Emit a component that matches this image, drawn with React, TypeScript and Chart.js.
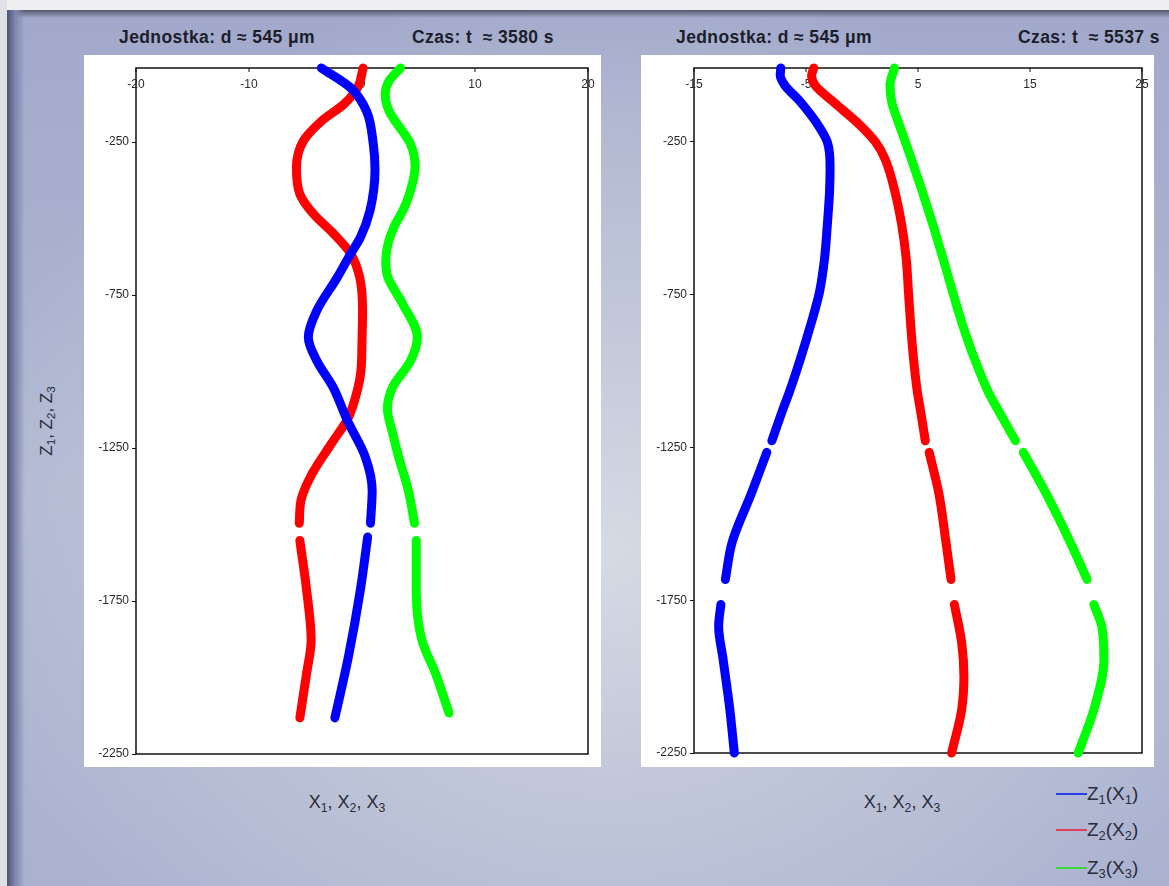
import React, { useEffect, useRef } from "react";
import { Chart, registerables } from "chart.js";

Chart.register(...registerables);

// ---------- Data (depth z, horizontal position x); null = gap in the trace ----------
// Left panel: t ≈ 3580 s
const leftXTicks = [-20, -10, 0, 10, 20];
const leftZ1Depth = [-8, -73, -149, -257, -340, -475, -562, -615, -693, -801, -888, -965, -1052, -1160, -1280, -1389, -1496, null, -1541, -1715, -1932, -2132];
const leftZ1X = [-3.6, -1.0, 0.4, 1.0, 1.15, 0.7, -0.15, -1.0, -2.2, -4.0, -4.75, -4.0, -2.55, -1.3, 0.3, 0.9, 0.75, null, 0.5, -0.15, -1.2, -2.4];
const leftZ2Depth = [-8, -73, -126, -182, -247, -334, -420, -485, -550, -615, -693, -801, -900, -1000, -1060, -1150, -1235, -1333, -1421, -1496, null, -1552, -1715, -1878, -1986, -2132];
const leftZ2X = [0.1, -0.4, -1.6, -3.6, -5.2, -5.8, -5.5, -4.3, -2.5, -1.0, -0.2, 0.05, 0.0, -0.1, -0.4, -1.2, -2.7, -4.4, -5.4, -5.55, null, -5.5, -4.9, -4.5, -4.9, -5.5];
const leftZ3Depth = [-8, -50, -95, -149, -257, -330, -420, -475, -530, -583, -638, -693, -779, -888, -965, -1052, -1122, -1200, -1280, -1389, -1496, null, -1552, -1715, -1878, -1986, -2116];
const leftZ3X = [3.4, 2.4, 2.05, 2.4, 4.3, 4.7, 4.2, 3.6, 2.8, 2.3, 2.1, 2.3, 3.6, 4.9, 4.3, 2.7, 2.25, 2.7, 3.25, 4.1, 4.65, null, 4.8, 4.8, 5.3, 6.5, 7.7];

// Right panel: t ≈ 5537 s
const rightXTicks = [-15, -5, 5, 15, 25];
const rightZ1Depth = [-8, -32, -64, -119, -196, -250, -330, -414, -523, -633, -742, -851, -960, -1070, -1124, -1228, null, -1266, -1398, -1561, -1682, null, -1764, -1835, -1944, -2108, -2250];
const rightZ1X = [-7.25, -7.3, -6.9, -5.5, -3.9, -3.1, -2.85, -2.9, -3.1, -3.35, -3.8, -4.6, -5.5, -6.5, -7.05, -8.05, null, -8.5, -9.85, -11.6, -12.2, null, -12.6, -12.8, -12.4, -11.8, -11.4];
const rightZ2Depth = [-8, -32, -64, -119, -196, -250, -305, -414, -523, -633, -742, -851, -960, -1070, -1124, -1228, null, -1266, -1398, -1561, -1682, null, -1764, -1889, -1999, -2108, -2250];
const rightZ2X = [-4.3, -4.5, -4.2, -2.55, -0.15, 1.2, 2.05, 2.95, 3.55, 3.95, 4.15, 4.35, 4.6, 4.95, 5.2, 5.65, null, 6.0, 6.85, 7.5, 7.95, null, 8.25, 8.9, 9.1, 8.9, 8.0];
const rightZ3Depth = [-8, -64, -119, -196, -305, -414, -523, -633, -742, -851, -960, -1070, -1124, -1228, null, -1266, -1398, -1561, -1682, null, -1764, -1835, -1944, -2108, -2250];
const rightZ3X = [2.9, 2.5, 2.65, 3.35, 4.4, 5.4, 6.35, 7.25, 8.1, 9.0, 10.05, 11.3, 12.1, 13.7, null, 14.4, 16.4, 18.6, 20.1, null, 20.7, 21.4, 21.6, 20.7, 19.3];

const yTicks = [-250, -750, -1250, -1750, -2250];
const yMin = -2250;
const yMax = -8;

const seriesColors = ["#0000ff", "#ff0000", "#00ff00"];
const FONT = "'Liberation Sans', Arial, Helvetica, sans-serif";

type Series = { depth: (number | null)[]; x: (number | null)[] };

function toPoints(s: Series) {
  return s.depth.map((z, i) => (z === null || s.x[i] === null ? { x: null, y: z } : { x: s.x[i], y: z }));
}

function PanelChart(props: { series: Series[]; xMin: number; xMax: number; xTicks: number[]; width: number; height: number; padRight: number; padBottom: number; yAxisWidth: number }) {
  const ref = useRef<HTMLCanvasElement | null>(null);
  useEffect(() => {
    if (!ref.current) return;
    const xTicks = props.xTicks;
    const framePlugin = {
      id: "frame",
      beforeDatasetsDraw(chart: any) {
        const { ctx, chartArea: a, scales } = chart;
        const xs = scales.x;
        ctx.save();
        ctx.strokeStyle = "#111";
        ctx.lineWidth = 1.5;
        ctx.strokeRect(a.left, a.top, a.right - a.left, a.bottom - a.top);
        ctx.fillStyle = "#2a2a2a";
        ctx.font = `12px ${FONT}`;
        ctx.textAlign = "center";
        ctx.textBaseline = "middle";
        ctx.lineWidth = 1;
        xTicks.forEach((v) => {
          const px = xs.getPixelForValue(v);
          ctx.beginPath();
          ctx.moveTo(px, a.top);
          ctx.lineTo(px, a.top + 4);
          ctx.stroke();
          ctx.fillText(String(v), px, a.top + 17);
        });
        ctx.restore();
      },
    };
    const chart = new Chart(ref.current, {
      type: "scatter",
      data: {
        datasets: props.series.map((s, i) => ({
          label: "Z" + (i + 1),
          data: toPoints(s) as any,
          borderColor: seriesColors[i],
          backgroundColor: seriesColors[i],
          borderWidth: 9,
          pointRadius: 0,
          showLine: true,
          cubicInterpolationMode: "monotone",
          spanGaps: false,
          borderCapStyle: "round",
          borderJoinStyle: "round",
          clip: false as any,
        })),
      },
      options: {
        indexAxis: "y",
        responsive: false,
        maintainAspectRatio: false,
        animation: false,
        layout: { padding: { left: 0, right: props.padRight, top: 13, bottom: props.padBottom } },
        plugins: { legend: { display: false }, tooltip: { enabled: false } },
        scales: {
          x: { type: "linear", min: props.xMin, max: props.xMax, display: false },
          y: {
            type: "linear",
            min: yMin,
            max: yMax,
            afterFit: (s: any) => {
              s.width = props.yAxisWidth;
            },
            afterBuildTicks: (s: any) => {
              s.ticks = yTicks.map((v) => ({ value: v }));
            },
            ticks: { color: "#2a2a2a", font: { size: 12, family: FONT }, padding: 3, callback: (v: any) => String(v) },
            grid: { drawOnChartArea: false, drawTicks: true, tickLength: 4, color: "#111" },
            border: { display: false },
          },
        },
      },
      plugins: [framePlugin],
    } as any);
    return () => chart.destroy();
  }, []);
  return <canvas ref={ref} width={props.width} height={props.height} style={{ display: "block", background: "#fff" }} />;
}

function Sub(props: { children: React.ReactNode }) {
  return <span style={{ fontSize: "0.68em", position: "relative", top: "0.3em" }}>{props.children}</span>;
}

const leftSeries: Series[] = [
  { depth: leftZ1Depth, x: leftZ1X },
  { depth: leftZ2Depth, x: leftZ2X },
  { depth: leftZ3Depth, x: leftZ3X },
];
const rightSeries: Series[] = [
  { depth: rightZ1Depth, x: rightZ1X },
  { depth: rightZ2Depth, x: rightZ2X },
  { depth: rightZ3Depth, x: rightZ3X },
];

const legendColors = ["#2a3cf0", "#e0405a", "#3ad83a"];

export default function App() {
  const title: React.CSSProperties = { position: "absolute", top: 27, fontSize: 17.5, fontWeight: "bold", color: "#1c1e2c", whiteSpace: "pre", letterSpacing: 0.4 };
  const axisTitle: React.CSSProperties = { position: "absolute", transform: "translate(-50%, -50%)", whiteSpace: "nowrap", fontSize: 18, color: "#2a2c3a" };
  return (
    <div
      style={{
        position: "absolute",
        left: 0,
        top: 0,
        width: 1169,
        height: 886,
        overflow: "hidden",
        fontFamily: FONT,
        background:
          "radial-gradient(ellipse 55% 65% at 52% 62%, rgba(214,218,228,1) 0%, rgba(196,202,218,0.9) 40%, rgba(170,178,208,0) 100%), linear-gradient(to bottom, #a1a8ca 0%, #b2b9d3 55%, #aab2d0 100%)",
      }}
    >
      {/* slide frame */}
      <div style={{ position: "absolute", left: 0, top: 0, width: 1169, height: 10, background: "#efeff2" }} />
      <div style={{ position: "absolute", left: 0, top: 10, width: 1169, height: 8, background: "linear-gradient(to bottom, rgba(70,72,90,0.85), rgba(150,156,190,0))" }} />
      <div style={{ position: "absolute", left: 0, top: 0, width: 7, height: 886, background: "#dfe0e8" }} />
      <div style={{ position: "absolute", left: 7, top: 10, width: 18, height: 876, background: "linear-gradient(to right, #4c5272, #7e86ae 45%, rgba(150,158,198,0))" }} />

      {/* titles */}
      <div style={{ ...title, left: 119 }}>Jednostka: d ≈ 545 μm</div>
      <div style={{ ...title, left: 412 }}>Czas: t  ≈ 3580 s</div>
      <div style={{ ...title, left: 676 }}>Jednostka: d ≈ 545 μm</div>
      <div style={{ ...title, left: 1018 }}>Czas: t  ≈ 5537 s</div>

      {/* panels */}
      <div style={{ position: "absolute", left: 84, top: 55 }}>
        <PanelChart series={leftSeries} xMin={-20} xMax={20} xTicks={leftXTicks} width={517} height={712} padRight={13} padBottom={13} yAxisWidth={52} />
      </div>
      <div style={{ position: "absolute", left: 641, top: 55 }}>
        <PanelChart series={rightSeries} xMin={-15} xMax={25} xTicks={rightXTicks} width={513} height={712} padRight={12} padBottom={14} yAxisWidth={53} />
      </div>

      {/* axis titles */}
      <div style={{ ...axisTitle, left: 47, top: 421, fontSize: 17, transform: "translate(-50%, -50%) rotate(-90deg)" }}>
        Z<Sub>1</Sub>, Z<Sub>2</Sub>, Z<Sub>3</Sub>
      </div>
      <div style={{ ...axisTitle, left: 347, top: 802 }}>
        X<Sub>1</Sub>, X<Sub>2</Sub>, X<Sub>3</Sub>
      </div>
      <div style={{ ...axisTitle, left: 902, top: 802 }}>
        X<Sub>1</Sub>, X<Sub>2</Sub>, X<Sub>3</Sub>
      </div>

      {/* legend */}
      {[0, 1, 2].map((i) => (
        <div key={i} style={{ position: "absolute", left: 1056, top: [794, 830, 868][i], transform: "translateY(-50%)", display: "flex", alignItems: "center", whiteSpace: "nowrap", fontSize: 19, color: "#2a2c3a" }}>
          <span style={{ display: "inline-block", width: 31, height: 2, background: legendColors[i] }} />
          <span>
            Z<Sub>{i + 1}</Sub>(X<Sub>{i + 1}</Sub>)
          </span>
        </div>
      ))}
    </div>
  );
}
